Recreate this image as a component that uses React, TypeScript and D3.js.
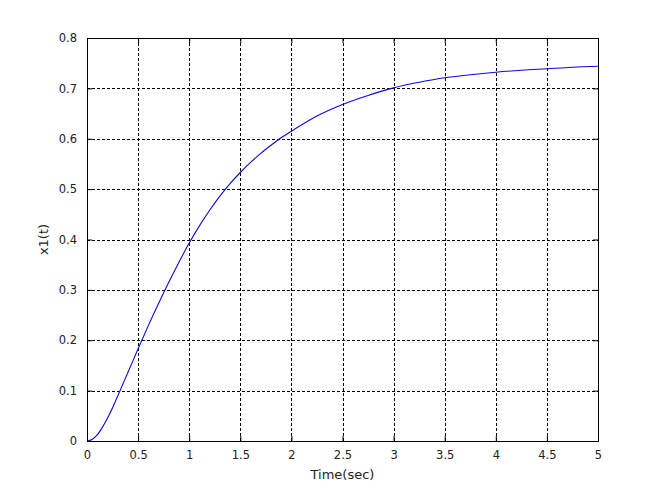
import * as d3 from "d3";
import { useEffect, useRef } from "react";

// time samples (sec) and x1(t)
const timeValues = [
  0, 0.05, 0.1, 0.15, 0.2, 0.25, 0.3, 0.4, 0.5, 0.6, 0.7, 0.8, 0.9, 1.0, 1.1,
  1.2, 1.3, 1.4, 1.5, 1.6, 1.7, 1.8, 1.9, 2.0, 2.25, 2.5, 2.75, 3.0, 3.25, 3.5,
  3.75, 4.0, 4.25, 4.5, 4.75, 5.0,
];
const x1Values = [
  0, 0.003, 0.012, 0.027, 0.045, 0.066, 0.089, 0.136, 0.183, 0.229, 0.273,
  0.315, 0.355, 0.393, 0.427, 0.458, 0.486, 0.511, 0.533, 0.553, 0.571, 0.587,
  0.602, 0.615, 0.645, 0.668, 0.686, 0.701, 0.712, 0.721, 0.727, 0.732, 0.736,
  0.739, 0.742, 0.744,
];
const xTicks = [0, 0.5, 1, 1.5, 2, 2.5, 3, 3.5, 4, 4.5, 5];
const yTicks = [0, 0.1, 0.2, 0.3, 0.4, 0.5, 0.6, 0.7, 0.8];

const W = 661;
const H = 496;
const margin = { top: 38, right: 63, bottom: 55, left: 87 };
const font = "'DejaVu Sans', Verdana, sans-serif";

export default function App() {
  const svgRef = useRef<SVGSVGElement>(null);

  useEffect(() => {
    if (!svgRef.current) return;
    const root = d3.select(svgRef.current);
    root.selectAll("*").remove();

    const width = W - margin.left - margin.right;
    const height = H - margin.top - margin.bottom;

    const x = d3.scaleLinear().domain([0, 5]).range([0, width]);
    const y = d3.scaleLinear().domain([0, 0.8]).range([height, 0]);

    root.append("rect").attr("width", W).attr("height", H).attr("fill", "#fff");

    const svg = root
      .append("g")
      .attr("transform", `translate(${margin.left},${margin.top})`);

    // grid
    svg
      .selectAll(".vgrid")
      .data(xTicks.slice(1, -1))
      .enter()
      .append("line")
      .attr("x1", (d) => Math.round(x(d)) + 0.5)
      .attr("x2", (d) => Math.round(x(d)) + 0.5)
      .attr("y1", 0)
      .attr("y2", height)
      .attr("stroke", "#000")
      .attr("stroke-dasharray", "3,2");

    svg
      .selectAll(".hgrid")
      .data(yTicks.slice(1, -1))
      .enter()
      .append("line")
      .attr("x1", 0)
      .attr("x2", width)
      .attr("y1", (d) => Math.round(y(d)) + 0.5)
      .attr("y2", (d) => Math.round(y(d)) + 0.5)
      .attr("stroke", "#000")
      .attr("stroke-dasharray", "3,2");

    // curve
    const line = d3
      .line<number>()
      .x((_, i) => x(timeValues[i]))
      .y((d) => y(d))
      .curve(d3.curveMonotoneX);

    svg
      .append("path")
      .datum(x1Values)
      .attr("d", line)
      .attr("fill", "none")
      .attr("stroke", "#0a0ad8")
      .attr("stroke-width", 1.1);

    // axes with inward ticks
    const xAxis = svg
      .append("g")
      .attr("transform", `translate(0,${height})`)
      .call(
        d3
          .axisBottom(x)
          .tickValues(xTicks)
          .tickSize(-5)
          .tickPadding(10)
          .tickFormat((d) => String(d)),
      );
    const yAxis = svg.append("g").call(
      d3
        .axisLeft(y)
        .tickValues(yTicks)
        .tickSize(-5)
        .tickPadding(10)
        .tickFormat((d) => String(d)),
    );
    svg
      .append("g")
      .attr("transform", `translate(${width},0)`)
      .call(d3.axisRight(y).tickValues(yTicks).tickSize(-5).tickFormat(() => ""));
    svg
      .append("g")
      .call(d3.axisTop(x).tickValues(xTicks).tickSize(-5).tickFormat(() => ""));

    svg.selectAll(".domain").attr("stroke", "#000");
    svg.selectAll(".tick line").attr("stroke", "#000");
    [xAxis, yAxis].forEach((a) =>
      a
        .selectAll("text")
        .style("font-family", font)
        .style("font-size", "11.5px")
        .attr("fill", "#222"),
    );

    // axis labels
    svg
      .append("text")
      .attr("x", width / 2)
      .attr("y", height + 38)
      .style("text-anchor", "middle")
      .style("font-family", font)
      .style("font-size", "13px")
      .attr("fill", "#222")
      .text("Time(sec)");

    svg
      .append("text")
      .attr("transform", "rotate(-90)")
      .attr("x", -height / 2)
      .attr("y", -39)
      .style("text-anchor", "middle")
      .style("font-family", font)
      .style("font-size", "13px")
      .attr("fill", "#222")
      .text("x1(t)");
  }, []);

  return (
    <svg
      ref={svgRef}
      width={W}
      height={H}
      style={{ display: "block", position: "absolute", left: 0, top: 0 }}
    />
  );
}
